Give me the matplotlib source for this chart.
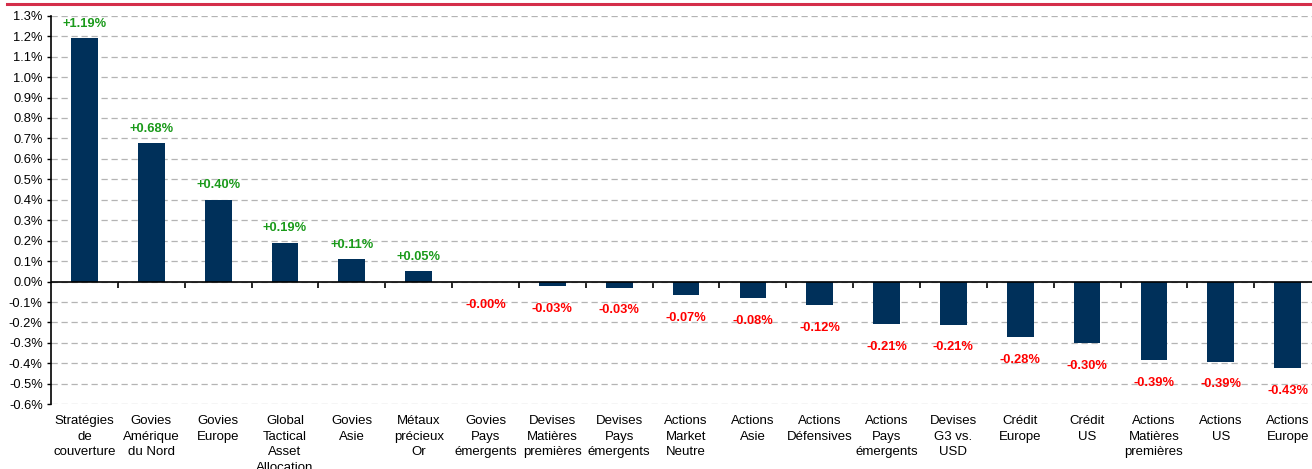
#! /usr/bin/env python3
# coding: utf-8

import matplotlib
matplotlib.use('Agg')
import matplotlib.pyplot as plt
from matplotlib.ticker import FixedLocator, FuncFormatter

plt.rcParams['font.family'] = ['Liberation Sans', 'DejaVu Sans']

categories = [
    'Stratégies\nde\ncouverture', 'Govies\nAmérique\ndu Nord', 'Govies\nEurope',
    'Global\nTactical\nAsset\nAllocation', 'Govies\nAsie', 'Métaux\nprécieux\nOr',
    'Govies\nPays\némergents', 'Devises\nMatières\npremières', 'Devises\nPays\némergents',
    'Actions\nMarket\nNeutre', 'Actions\nAsie', 'Actions\nDéfensives',
    'Actions\nPays\némergents', 'Devises\nG3 vs.\nUSD', 'Crédit\nEurope',
    'Crédit\nUS', 'Actions\nMatières\npremières', 'Actions\nUS', 'Actions\nEurope',
]
values = [1.19, 0.676, 0.40, 0.19, 0.11, 0.05, -0.003, -0.024, -0.029, -0.065,
          -0.08, -0.116, -0.209, -0.21, -0.272, -0.30, -0.385, -0.391, -0.425]
value_labels = ['+1.19%', '+0.68%', '+0.40%', '+0.19%', '+0.11%', '+0.05%', '-0.00%',
                '-0.03%', '-0.03%', '-0.07%', '-0.08%', '-0.12%', '-0.21%', '-0.21%',
                '-0.28%', '-0.30%', '-0.39%', '-0.39%', '-0.43%']

BAR = '#00305a'
GREEN = '#1a9a1a'
RED = '#ff0000'

fig = plt.figure(figsize=(13.12, 4.69), dpi=100)
ax = fig.add_axes([0.0389, 0.138, 0.968, 0.8285])

x = list(range(len(categories)))
ax.bar(x, values, width=0.4, color=BAR, zorder=3)

ax.set_xlim(-0.5, len(categories) - 0.5)
ax.set_ylim(-0.6, 1.3)
ax.yaxis.set_major_locator(FixedLocator([i / 10 for i in range(-6, 14)]))
ax.yaxis.set_major_formatter(FuncFormatter(lambda v, p: '{:.1f}%'.format(v)))
ax.grid(axis='y', color='#b4b4b4', linestyle=(0, (5, 3)), linewidth=0.9, zorder=0)
ax.tick_params(axis='y', length=3, width=1, pad=3, labelsize=9.3)

for side in ['top', 'right', 'bottom']:
    ax.spines[side].set_visible(False)
ax.spines['left'].set_linewidth(1.2)

# category names sit below the plot, no tick marks
ax.set_xticks(x)
ax.set_xticklabels(categories, fontsize=9.5, linespacing=1.38)
ax.tick_params(axis='x', length=0, pad=8)

# zero line with separators between categories
ax.axhline(0, color='black', linewidth=1.2, zorder=4)
sec = ax.secondary_xaxis(0, transform=ax.transData)
sec.spines['bottom'].set_visible(False)
sec.set_xticks([i + 0.5 for i in x[:-1]])
sec.set_xticklabels([])
sec.tick_params(axis='x', length=4, width=1.2, direction='out')

for xi, v, lab in zip(x, values, value_labels):
    if v >= 0:
        ax.annotate(lab, (xi, v), xytext=(0, 6), textcoords='offset points',
                    ha='center', va='bottom', color=GREEN, fontsize=9.3, fontweight='bold')
    else:
        ax.annotate(lab, (xi, v), xytext=(0, -12), textcoords='offset points',
                    ha='center', va='top', color=RED, fontsize=9.3, fontweight='bold')

# red rule at the top
fig.add_artist(plt.Line2D([0.005, 1.0], [0.991, 0.991], color='#d42e4a', linewidth=2.2))

fig.savefig('out.png', dpi=100)
